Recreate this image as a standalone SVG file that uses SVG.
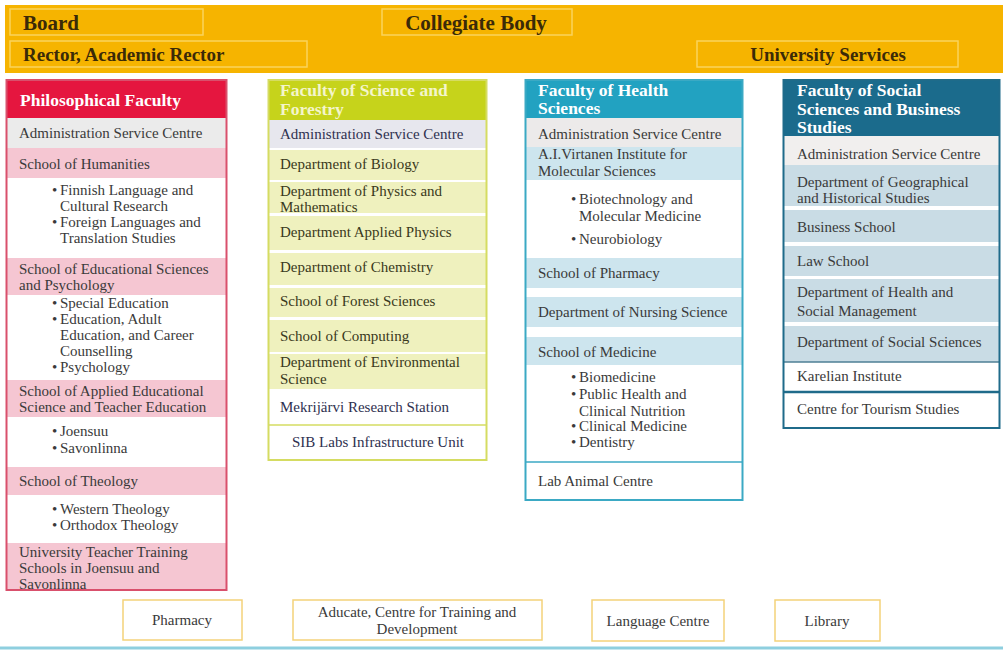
<svg xmlns="http://www.w3.org/2000/svg" width="1003" height="651" viewBox="0 0 1003 651">
  <defs>
    <style>
      text { font-family: "Liberation Serif", "Times New Roman", serif; }
      .top { font-weight: bold; fill: #3b2a08; }
      .big { font-size: 21px; }
      .mid { font-size: 19px; }
      .topbox { fill: none; stroke: #FAD35C; stroke-width: 1.5; }
      .hd { font-size: 17.5px; font-weight: bold; fill: #ffffff; }
      .hd-lime { font-size: 17.5px; font-weight: bold; fill: #F4F5CC; }
      .t { font-size: 15px; fill: #3a3a3a; }
      .t-olive { font-size: 15px; fill: #3a3920; }
      .t-navy { font-size: 15px; fill: #2f3150; }
      .mid-anchor { text-anchor: middle; }
      .pink { fill: #F5C6D2; }
      .grey { fill: #EBEBEB; }
      .lime { fill: #EFF1BE; }
      .lav { fill: #E7E7EE; }
      .aqua { fill: #CDE5EE; }
      .steel { fill: #C9DCE5; }
      .svc { fill: #ffffff; stroke: #F4D27A; stroke-width: 1.5; }
    </style>
    <clipPath id="clip-phil">
      <rect x="6" y="80" width="221" height="509"/>
    </clipPath>
  </defs>

  <rect x="0" y="0" width="1003" height="651" fill="#ffffff"/>

  <!-- governance band -->
  <g id="governance">
    <rect x="5" y="5" width="998" height="68" fill="#F6B400"/>
    <g id="board">
      <rect class="topbox" x="10" y="9" width="193" height="26"/>
      <text class="top big" x="23" y="30">Board</text>
    </g>
    <g id="collegiate-body">
      <rect class="topbox" x="382" y="9" width="190" height="26"/>
      <text class="top big mid-anchor" x="476" y="30">Collegiate Body</text>
    </g>
    <g id="rector">
      <rect class="topbox" x="10" y="41" width="297" height="26"/>
      <text class="top mid" x="23" y="61">Rector, Academic Rector</text>
    </g>
    <g id="university-services">
      <rect class="topbox" x="697" y="41" width="261" height="26"/>
      <text class="top mid mid-anchor" x="828" y="61">University Services</text>
    </g>
  </g>

  <!-- Philosophical Faculty -->
  <g id="philosophical-faculty">
    <rect x="6" y="80" width="221" height="510" fill="#ffffff"/>
    <g clip-path="url(#clip-phil)">
      <rect x="6" y="80" width="221" height="38" fill="#E5163F"/>
      <text class="hd" x="20" y="106">Philosophical Faculty</text>

      <rect class="grey" x="6" y="118" width="221" height="30"/>
      <text class="t" x="19" y="138">Administration Service Centre</text>

      <rect class="pink" x="6" y="148" width="221" height="30"/>
      <text class="t" x="19" y="169">School of Humanities</text>
      <text class="t" x="52" y="195">•</text><text class="t" x="60" y="195">Finnish Language and</text>
      <text class="t" x="60" y="211">Cultural Research</text>
      <text class="t" x="52" y="227">•</text><text class="t" x="60" y="227">Foreign Languages and</text>
      <text class="t" x="60" y="243">Translation Studies</text>

      <rect class="pink" x="6" y="258" width="221" height="37"/>
      <text class="t" x="19" y="274">School of Educational Sciences</text>
      <text class="t" x="19" y="290">and Psychology</text>
      <text class="t" x="52" y="308">•</text><text class="t" x="60" y="308">Special Education</text>
      <text class="t" x="52" y="324">•</text><text class="t" x="60" y="324">Education, Adult</text>
      <text class="t" x="60" y="340">Education, and Career</text>
      <text class="t" x="60" y="356">Counselling</text>
      <text class="t" x="52" y="372">•</text><text class="t" x="60" y="372">Psychology</text>

      <rect class="pink" x="6" y="380" width="221" height="37"/>
      <text class="t" x="19" y="396">School of Applied Educational</text>
      <text class="t" x="19" y="412">Science and Teacher Education</text>
      <text class="t" x="52" y="436">•</text><text class="t" x="60" y="436">Joensuu</text>
      <text class="t" x="52" y="453">•</text><text class="t" x="60" y="453">Savonlinna</text>

      <rect class="pink" x="6" y="467" width="221" height="28"/>
      <text class="t" x="19" y="486">School of Theology</text>
      <text class="t" x="52" y="514">•</text><text class="t" x="60" y="514">Western Theology</text>
      <text class="t" x="52" y="530">•</text><text class="t" x="60" y="530">Orthodox Theology</text>

      <rect class="pink" x="6" y="543" width="221" height="47"/>
      <text class="t" x="19" y="557">University Teacher Training</text>
      <text class="t" x="19" y="573">Schools in Joensuu and</text>
      <text class="t" x="19" y="589">Savonlinna</text>
    </g>
    <rect x="6.5" y="80" width="220" height="510" fill="none" stroke="#D9506C" stroke-width="2"/>
  </g>

  <!-- Faculty of Science and Forestry -->
  <g id="science-forestry">
    <rect x="268" y="80" width="219" height="380" fill="#ffffff"/>
    <rect x="268" y="80" width="219" height="40" fill="#C6D31B"/>
    <text class="hd-lime" x="280" y="96">Faculty of Science and</text>
    <text class="hd-lime" x="280" y="115">Forestry</text>

    <rect class="lav" x="268" y="120" width="219" height="28"/>
    <text class="t-navy" x="280" y="139">Administration Service Centre</text>

    <rect class="lime" x="268" y="150" width="219" height="30"/>
    <text class="t-olive" x="280" y="169">Department of Biology</text>

    <rect class="lime" x="268" y="182" width="219" height="31"/>
    <text class="t-olive" x="280" y="196">Department of Physics and</text>
    <text class="t-olive" x="280" y="212">Mathematics</text>

    <rect class="lime" x="268" y="216" width="219" height="34"/>
    <text class="t-olive" x="280" y="237">Department Applied Physics</text>

    <rect class="lime" x="268" y="253" width="219" height="32"/>
    <text class="t-olive" x="280" y="272">Department of Chemistry</text>

    <rect class="lime" x="268" y="288" width="219" height="29"/>
    <text class="t-olive" x="280" y="306">School of Forest Sciences</text>

    <rect class="lime" x="268" y="320" width="219" height="32"/>
    <text class="t-olive" x="280" y="341">School of Computing</text>

    <rect class="lime" x="268" y="354" width="219" height="35"/>
    <text class="t-olive" x="280" y="367">Department of Environmental</text>
    <text class="t-olive" x="280" y="384">Science</text>

    <text class="t-navy" x="280" y="412">Mekrijärvi Research Station</text>
    <line x1="268" y1="425" x2="487" y2="425" stroke="#D5DC62" stroke-width="1.5"/>
    <text class="t-navy" x="292" y="447">SIB Labs Infrastructure Unit</text>

    <rect x="268.5" y="80" width="218" height="380" fill="none" stroke="#D5DC62" stroke-width="2"/>
  </g>

  <!-- Faculty of Health Sciences -->
  <g id="health-sciences">
    <rect x="525" y="80" width="218" height="420" fill="#ffffff"/>
    <rect x="525" y="80" width="218" height="38" fill="#22A2C1"/>
    <text class="hd" x="538" y="96">Faculty of Health</text>
    <text class="hd" x="538" y="114">Sciences</text>

    <rect x="525" y="118" width="218" height="29" fill="#ECEAEA"/>
    <text class="t" x="538" y="139">Administration Service Centre</text>

    <rect class="aqua" x="525" y="147" width="218" height="33"/>
    <text class="t" x="538" y="159">A.I.Virtanen Institute for</text>
    <text class="t" x="538" y="176">Molecular Sciences</text>
    <text class="t" x="571" y="204">•</text><text class="t" x="579" y="204">Biotechnology and</text>
    <text class="t" x="579" y="221">Molecular Medicine</text>
    <text class="t" x="571" y="244">•</text><text class="t" x="579" y="244">Neurobiology</text>

    <rect class="aqua" x="525" y="258" width="218" height="30"/>
    <text class="t" x="538" y="278">School of Pharmacy</text>

    <rect class="aqua" x="525" y="297" width="218" height="30"/>
    <text class="t" x="538" y="317">Department of Nursing Science</text>

    <rect class="aqua" x="525" y="337" width="218" height="28"/>
    <text class="t" x="538" y="357">School of Medicine</text>
    <text class="t" x="571" y="382">•</text><text class="t" x="579" y="382">Biomedicine</text>
    <text class="t" x="571" y="399">•</text><text class="t" x="579" y="399">Public Health and</text>
    <text class="t" x="579" y="416">Clinical Nutrition</text>
    <text class="t" x="571" y="431">•</text><text class="t" x="579" y="431">Clinical Medicine</text>
    <text class="t" x="571" y="447">•</text><text class="t" x="579" y="447">Dentistry</text>

    <line x1="525" y1="462" x2="743" y2="462" stroke="#3BA9C4" stroke-width="1.5"/>
    <text class="t" x="538" y="486">Lab Animal Centre</text>

    <rect x="525.5" y="80" width="217" height="420" fill="none" stroke="#3BA9C4" stroke-width="2"/>
  </g>

  <!-- Faculty of Social Sciences and Business Studies -->
  <g id="social-business">
    <rect x="783" y="80" width="217" height="348" fill="#ffffff"/>
    <rect x="783" y="80" width="217" height="56" fill="#1B6B8C"/>
    <text class="hd" x="797" y="96">Faculty of Social</text>
    <text class="hd" x="797" y="115">Sciences and Business</text>
    <text class="hd" x="797" y="133">Studies</text>

    <rect x="783" y="136" width="217" height="29" fill="#F1EFEE"/>
    <text class="t" x="797" y="159">Administration Service Centre</text>

    <rect class="steel" x="783" y="165" width="217" height="41"/>
    <text class="t" x="797" y="187">Department of Geographical</text>
    <text class="t" x="797" y="203">and Historical Studies</text>

    <rect class="steel" x="783" y="210" width="217" height="32"/>
    <text class="t" x="797" y="232">Business School</text>

    <rect class="steel" x="783" y="246" width="217" height="30"/>
    <text class="t" x="797" y="266">Law School</text>

    <rect class="steel" x="783" y="279" width="217" height="43"/>
    <text class="t" x="797" y="297">Department of Health and</text>
    <text class="t" x="797" y="316">Social Management</text>

    <rect class="steel" x="783" y="326" width="217" height="36"/>
    <text class="t" x="797" y="347">Department of Social Sciences</text>

    <line x1="783" y1="362" x2="1000" y2="362" stroke="#4E7F95" stroke-width="1.5"/>
    <text class="t" x="797" y="381">Karelian Institute</text>
    <line x1="783" y1="392" x2="1000" y2="392" stroke="#1F6B8A" stroke-width="2.5"/>
    <text class="t" x="797" y="414">Centre for Tourism Studies</text>

    <rect x="783.5" y="80" width="216" height="348" fill="none" stroke="#1F6B8A" stroke-width="2"/>
  </g>

  <!-- shared services -->
  <g id="pharmacy">
    <rect class="svc" x="123" y="600" width="119" height="40"/>
    <text class="t mid-anchor" x="182" y="625">Pharmacy</text>
  </g>
  <g id="aducate">
    <rect class="svc" x="293" y="600" width="249" height="40"/>
    <text class="t mid-anchor" x="417" y="617">Aducate, Centre for Training and</text>
    <text class="t mid-anchor" x="417" y="634">Development</text>
  </g>
  <g id="language-centre">
    <rect class="svc" x="592" y="600" width="132" height="41"/>
    <text class="t mid-anchor" x="658" y="626">Language Centre</text>
  </g>
  <g id="library">
    <rect class="svc" x="775" y="600" width="105" height="41"/>
    <text class="t mid-anchor" x="827" y="626">Library</text>
  </g>

  <line x1="0" y1="648" x2="1003" y2="648" stroke="#8ECFDF" stroke-width="3"/>
</svg>
